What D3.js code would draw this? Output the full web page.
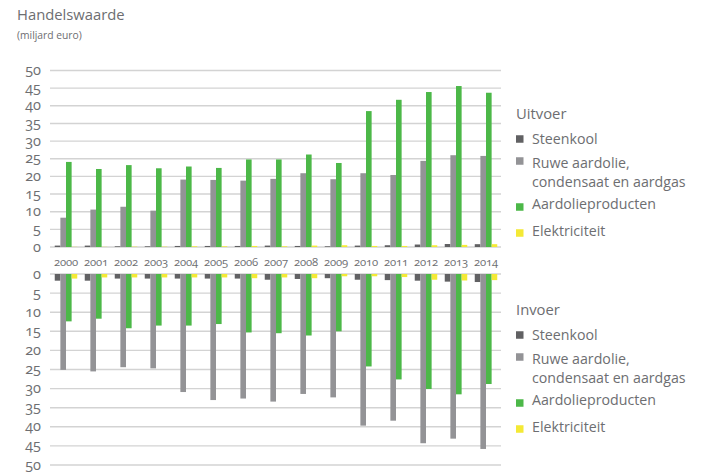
<!DOCTYPE html>
<html><head><meta charset="utf-8">
<script src="https://cdn.jsdelivr.net/npm/d3@7"></script>
<style>
body{margin:0;background:#fff;}
svg text{font-family:"Open Sans",Lato,sans-serif;fill:#6d6e71;font-variant-numeric:oldstyle-nums;}
</style></head><body>
<svg id="c" width="704" height="474"></svg>
<script>
const years = ["2000","2001","2002","2003","2004","2005","2006","2007","2008","2009","2010","2011","2012","2013","2014"];
const seriesNames = ["Steenkool","Ruwe aardolie, condensaat en aardgas","Aardolieproducten","Elektriciteit"];
const colors = ["#616163","#939396","#4cb848","#f4e935"];
// Uitvoer (export)
const exSteenkool = [0.4,0.4,0.2,0.2,0.3,0.3,0.3,0.4,0.3,0.2,0.4,0.5,0.7,0.85,0.8];
const exRuwe = [8.3,10.6,11.4,10.3,19.1,19.0,18.8,19.3,20.9,19.2,20.9,20.4,24.4,26.0,25.8];
const exAardolie = [24.1,22.1,23.2,22.3,22.8,22.4,24.8,24.8,26.2,23.8,38.5,41.7,43.9,45.6,43.7];
const exElek = [0.05,0.05,0.1,0.1,0.2,0.2,0.3,0.2,0.4,0.5,0.3,0.3,0.5,0.6,0.8];
// Invoer (import)
const imSteenkool = [1.75,1.75,1.2,1.2,1.2,1.2,1.2,1.5,1.3,1.1,1.5,1.6,1.75,2.0,2.1];
const imRuwe = [25.1,25.5,24.4,24.7,30.9,33.0,32.6,33.4,31.4,32.3,39.7,38.4,44.3,43.1,45.8];
const imAardolie = [12.4,11.7,14.2,13.5,13.5,13.1,15.3,15.5,16.1,15.0,24.2,27.6,30.1,31.5,28.8];
const imElek = [1.2,0.9,0.9,0.9,0.9,0.9,1.1,0.9,1.1,0.6,0.6,0.8,1.5,1.7,1.6];
const ticks = [0,5,10,15,20,25,30,35,40,45,50];

const svg = d3.select("#c");
const x0 = d3.scaleBand().domain(years).range([51,501]).paddingInner(0.25).paddingOuter(0.125);
const x1 = d3.scaleBand().domain(d3.range(4)).range([0,x0.bandwidth()]);
const yUp = d3.scaleLinear().domain([0,50]).range([247,70.5]);
const yDn = d3.scaleLinear().domain([0,50]).range([274,465]);

svg.append("text").attr("x",17).attr("y",20).attr("font-size",14.8).text("Handelswaarde");
svg.append("text").attr("x",17).attr("y",38.5).attr("font-size",10.3).text("(miljard euro)");

function grid(y){
  const g = svg.append("g");
  g.selectAll("line").data(ticks).join("line")
    .attr("x1",50).attr("x2",501).attr("y1",d=>y(d)).attr("y2",d=>y(d))
    .attr("stroke","#d3d3d3").attr("stroke-width",1.4);
  g.selectAll("text").data(ticks).join("text")
    .attr("x",41).attr("y",d=>y(d)+4.5).attr("text-anchor","end").attr("font-size",14.5).text(d=>d);
}
grid(yUp); grid(yDn);

function bars(arrs, y, up){
  arrs.forEach((arr,si)=>{
    svg.append("g").selectAll("rect").data(arr).join("rect")
      .attr("x",(d,i)=>x0(years[i])+x1(si))
      .attr("width",x1.bandwidth())
      .attr("y",d=> up ? y(d) : y(0))
      .attr("height",d=> Math.abs(y(d)-y(0)))
      .attr("fill",colors[si]);
  });
}
bars([exSteenkool,exRuwe,exAardolie,exElek], yUp, true);
bars([imSteenkool,imRuwe,imAardolie,imElek], yDn, false);

svg.append("g").selectAll("text").data(years).join("text")
  .attr("x",d=>x0(d)+x0.bandwidth()/2).attr("y",266).attr("text-anchor","middle")
  .attr("font-size",11.3).attr("letter-spacing",-0.2).text(d=>d);

function legend(title, top){
  const g = svg.append("g");
  g.append("text").attr("x",516).attr("y",top).attr("font-size",14.8).text(title);
  const rows = [
    {lines:["Steenkool"], y: top+25, sq: top+20},
    {lines:["Ruwe aardolie,","condensaat en aardgas"], y: top+48.5, sq: top+42},
    {lines:["Aardolieproducten"], y: top+90, sq: top+88},
    {lines:["Elektriciteit"], y: top+117, sq: top+114}
  ];
  rows.forEach((r,i)=>{
    g.append("rect").attr("x",516).attr("y",r.sq-3.75).attr("width",7.5).attr("height",7.5).attr("fill",colors[i]);
    const t = g.append("text").attr("x",532).attr("y",r.y).attr("font-size",14.2);
    r.lines.forEach((l,j)=>t.append("tspan").attr("x",532).attr("dy", j===0 ? 0 : 19.4).text(l));
  });
}
legend("Uitvoer",119);
legend("Invoer",315);
</script></body></html>
